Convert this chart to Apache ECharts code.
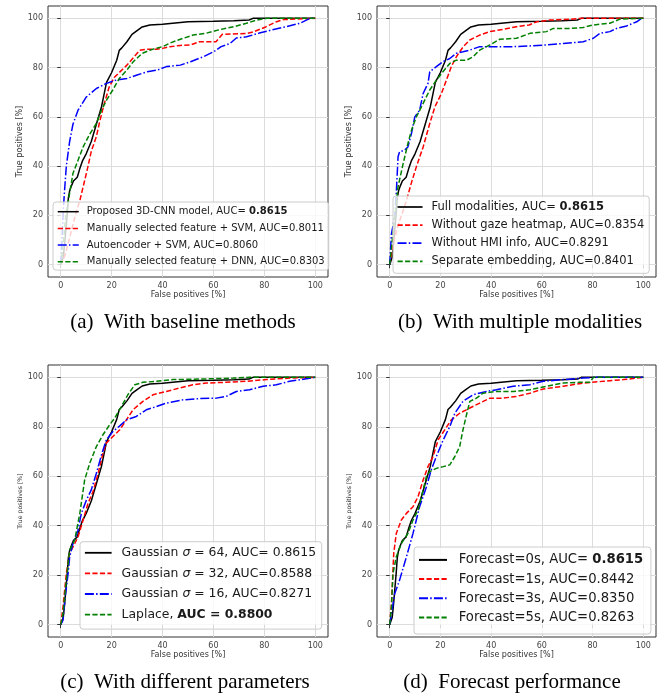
<!DOCTYPE html>
<html><head><meta charset="utf-8">
<script src="https://cdn.jsdelivr.net/npm/echarts@6/dist/echarts.min.js"></script>
<style>html,body{margin:0;padding:0;background:#fff}#c{width:665px;height:694px}</style>
</head><body><div id="c"></div>
<script>
// ---------- data ----------
const tickValues = [0, 20, 40, 60, 80, 100];
const captions = ['(a)  With baseline methods', '(b)  With multiple modalities', '(c)  With different parameters', '(d)  Forecast performance'];

const namesA = ['Proposed 3D-CNN model, AUC= 0.8615', 'Manually selected feature + SVM, AUC=0.8011', 'Autoencoder + SVM, AUC=0.8060', 'Manually selected feature + DNN, AUC=0.8303'];
const namesB = ['Full modalities, AUC= 0.8615', 'Without gaze heatmap, AUC=0.8354', 'Without HMI info, AUC=0.8291', 'Separate embedding, AUC=0.8401'];
const namesC = ['Gaussian σ = 64, AUC= 0.8615', 'Gaussian σ = 32, AUC=0.8588', 'Gaussian σ = 16, AUC=0.8271', 'Laplace, AUC = 0.8800'];
const namesD = ['Forecast=0s, AUC= 0.8615', 'Forecast=1s, AUC=0.8442', 'Forecast=3s, AUC=0.8350', 'Forecast=5s, AUC=0.8263'];

// proposed / full model (same curve in all panels)
const fullModel = [[0,0],[1,3],[1.5,8],[2,14],[2.5,20],[3,27],[3.5,30],[4.2,32],[5,34],[6.5,35.5],[7.5,39],[8.5,42],[10,45],[12,50],[14,57],[16,64],[17,69],[18,74],[20,78],[22,83],[23,87],[24,88],[26,90.5],[28,93.5],[30,95],[32,96.5],[35,97.3],[40,97.6],[45,98.1],[50,98.6],[60,98.8],[68,99],[74,99.3],[75.5,100],[100,100]];
// (a)
const svmManual = [[0,0],[1,2],[2,5],[3,9],[4,13],[5,17],[6,21],[7.5,26],[8.8,31.6],[10.3,38],[12,46],[14,52],[15.3,58],[17,65],[19,72],[21,76],[23,78],[26,81],[28.5,84],[31,87],[33.5,87.4],[37.5,87.4],[40,87.8],[43,88.5],[47,89],[51,89.2],[54.5,90.5],[61,90.5],[63.5,93.5],[73,93.8],[76,94.6],[80.5,96.5],[84.5,98.5],[87.5,99.5],[100,100]];
const autoencSvm = [[0,0],[0.5,10],[1,22],[1.5,30],[2.2,40],[3.5,50],[4.8,57],[6.8,62.7],[10,68],[14,71.5],[18,73.6],[22,75],[26,75.6],[30,77],[34,78.3],[38,79],[41.5,80.4],[47,81],[51,82.4],[56,84.4],[60,86.4],[63,88.5],[66.5,89.8],[69,92],[73,92.5],[78,94],[83,95.3],[88.5,96.6],[94,98],[98,100],[100,100]];
const dnnManual = [[0,0],[1,8],[2,20],[3,26],[3.5,29],[4.8,37],[6.8,42.4],[8.8,47.8],[11.4,53],[14,57.3],[16,62.7],[18,66.8],[20.5,71],[23,75.6],[26,79],[28.5,82.4],[32,85.8],[36,87.4],[40,88.5],[43,90],[47,91.5],[52,93.2],[57,93.9],[62,95.3],[68,96.6],[73,98],[77,99.3],[81,100],[100,100]];
// (b)
const noGaze = [[0,0],[1,6],[2,11],[3,15],[4,18],[5,21],[6.6,26],[8.5,33],[10.5,39.7],[13.2,47.8],[15.8,57.3],[17.8,64],[20.4,69.5],[22.4,75],[24.3,80.4],[26.3,84.4],[29,88.5],[31.6,91.2],[35.5,93.2],[39.5,94.6],[44.7,95.5],[50,96.6],[55,97.3],[58,98.6],[63,99.3],[71,99.6],[76,100],[100,100]];
const noHmi = [[0,0],[0.7,12.6],[2,19.4],[2.6,29],[3.3,43.8],[3.9,45.8],[4.6,45.8],[5.9,46.5],[7.2,47.8],[8.6,53.3],[9.9,60],[11.8,62.7],[13.2,69.5],[15.1,73.6],[15.8,78.3],[18.4,80.4],[21,82.4],[23.7,83.7],[26.3,85.8],[28.9,86.4],[31.6,87.1],[35.5,88.5],[42,88.5],[48.7,88.5],[55.3,88.8],[61.8,89.2],[68.4,89.8],[76.3,90.5],[80.3,91.9],[82.9,93.9],[86.8,94.6],[89.5,95.9],[93.4,96.9],[97.4,98.6],[99.3,100],[100,100]];
const sepEmbed = [[0,0],[2,19.4],[3.3,31.6],[5.3,41],[7.2,49.2],[8.6,54.6],[10.5,60],[12.5,64],[14.5,68.2],[15.8,70.9],[18.4,74.9],[21,78.3],[23.7,81.7],[26.3,83],[30.3,83],[32.9,84.4],[35.5,87.1],[39.5,89.2],[43.4,91.5],[50,91.9],[55.3,93.9],[61.8,94.6],[64.5,95.9],[71,95.9],[76.3,96.3],[80.3,97.3],[86.8,98],[90.8,99.7],[100,100]];
// (c)
const gauss32 = [[0,0],[0.9,7.2],[2.2,20.7],[3.5,28.8],[5.5,32.8],[6.8,35.5],[8.8,42.3],[10.7,49],[12.7,53.8],[14.7,61.2],[16.6,69.3],[17.9,73.4],[20.5,76.1],[23.2,78.8],[25.8,82.8],[28.4,86.9],[32.3,90.3],[36.3,93],[41.5,94.3],[46.7,95.7],[51.9,97],[57.2,97.7],[65,98],[72.9,98.4],[80.8,99.1],[89.9,99.7],[100,100]];
const gauss16 = [[0,0],[0.9,1.8],[1.6,9.9],[2.9,20.7],[3.5,27.4],[4.8,32.8],[6.8,38.2],[8.1,45],[10.1,50.4],[12,54.5],[14,61.2],[16,68.6],[17.9,74.7],[20.5,78.1],[23.2,80.4],[25.8,82.8],[29.7,84.2],[33.6,86.9],[37.6,88.2],[41.5,89.6],[48,90.9],[54.6,91.4],[61.1,91.6],[65,92.3],[69,94.3],[74.2,95],[79.5,96.4],[84.7,97],[89.9,98.4],[100,100]];
const laplace = [[0,0],[0.9,4.5],[2.2,18],[3.5,30.1],[5.5,34.2],[7.5,45],[9.4,58.5],[11.4,65.3],[14,72],[16.6,76.8],[19.2,80.8],[21.2,83.5],[23.8,88.2],[26.4,93],[29.1,97],[32.3,98],[37.6,98.4],[44.1,99.1],[54.6,99.3],[67.7,99.7],[74.2,100],[100,100]];
// (d)
const forecast1s = [[0,0],[0.7,8.5],[1.6,28.8],[2.6,36.9],[4.6,42.3],[6.6,45],[9.2,47.7],[11.2,51.8],[13.2,58.5],[15.1,63.9],[17.1,68],[19.1,74.7],[21.7,78.8],[24.3,82.8],[27.6,85.5],[31.6,87.6],[35.5,89.6],[39.5,91.6],[44.7,91.6],[50,92.3],[55.3,93.6],[60.5,95.3],[68.4,96.4],[76.3,97.7],[84.2,98.4],[92.1,99.1],[100,100]];
const forecast3s = [[0,0],[0.7,4.5],[2,12.6],[3.9,18],[6.6,27.4],[9.2,36.9],[11.8,47.7],[14.5,55.8],[16.4,62.6],[18.4,68],[21.1,74.7],[23.7,80.1],[25.7,85.5],[28.9,90.3],[32.9,93],[38.2,94.3],[42.1,95],[48.7,96.4],[55.3,97],[60.5,98.4],[68.4,99.1],[76.3,99.7],[81.6,100],[100,100]];
const forecast5s = [[0,0],[0.7,7.2],[1.3,20.7],[2.6,27.4],[4.6,32.8],[7.2,36.9],[9.2,42.3],[11.2,46.4],[13.2,54.5],[14.5,59.9],[15.8,61.9],[18.4,63.2],[21.1,63.9],[23.7,64.6],[25.7,68],[27.6,72],[28.9,78.8],[30.3,84.9],[31.6,90.3],[34.2,91.6],[36.8,93.6],[42.1,94.3],[48.7,94.3],[55.3,95],[61.8,96.4],[68.4,97.7],[75,98],[78.9,98],[80.3,100],[100,100]];

// ---------- styles ----------
const COLORS = ['#000000', '#ff0000', '#0000ff', '#008000'];
const DASH = ['solid', [5.2, 2.3], [9, 2.2, 1.5, 2.2], [5.2, 2.3]];
const FONT = 'DejaVu Sans';

const grids = [
  {left: 48, top: 6, width: 280, height: 271},
  {left: 377, top: 6, width: 279, height: 271},
  {left: 48, top: 365, width: 280, height: 272},
  {left: 377, top: 365, width: 279, height: 272}
];
const yNameSize = [8, 8, 6.2, 6.2];
const panelNames = [namesA, namesB, namesC, namesD];
const panelData = [
  [fullModel, svmManual, autoencSvm, dnnManual],
  [fullModel, noGaze, noHmi, sepEmbed],
  [fullModel, gauss32, gauss16, laplace],
  [fullModel, forecast1s, forecast3s, forecast5s]
];
// legend layout: [left, top, fontSize, itemGap, padding, itemWidth, textPadLeft, lineWidth]
const legendLayout = [
  [53, 202, 10, 6.7, [4.7, 4, 3.3, 4], 21, 3, 1.5],
  [393, 196, 11.5, 6.1, [5, 5, 6, 3.7], 25, 4, 1.7],
  [80, 541.7, 12.4, 8.6, [5.1, 5.7, 8.5, 4], 26.7, 5, 1.8],
  [414, 547, 13.2, 6.2, [6.4, 7.7, 10, 4], 28, 6.7, 2]
];
const captionPos = [[183, 322], [520, 322], [185, 682], [512, 682]];

function richName(name) {
  if (name.indexOf('Laplace') === 0) return '{n|Laplace, }{b|AUC = 0.8800}';
  if (name.indexOf('σ') >= 0) {
    const parts = name.split('σ');
    return '{n|' + parts[0] + '}{i|σ}{n|' + parts[1] + '}';
  }
  if (name.indexOf('AUC= 0.8615') >= 0) {
    return '{n|' + name.replace('0.8615', '') + '}{b|0.8615}';
  }
  return '{n|' + name + '}';
}

const option = {
  animation: false,
  backgroundColor: '#ffffff',
  grid: grids.map(g => Object.assign({show: true, borderColor: '#333', borderWidth: 1, backgroundColor: 'transparent', containLabel: false}, g)),
  xAxis: grids.map((g, i) => ({
    type: 'value', gridIndex: i, min: -5, max: 105,
    name: 'False positives [%]', nameLocation: 'middle', nameGap: 13,
    nameTextStyle: {fontFamily: FONT, fontSize: 8, color: '#333'},
    axisLine: {show: false},
    axisTick: {show: true, length: 3.5, lineStyle: {color: '#333'}, customValues: tickValues},
    axisLabel: {customValues: tickValues, fontFamily: FONT, fontSize: 8, color: '#444', margin: 5},
    splitLine: {show: true, lineStyle: {color: '#dcdcdc', width: 1}}
  })),
  yAxis: grids.map((g, i) => ({
    type: 'value', gridIndex: i, min: -5, max: 105,
    name: 'True positives [%]', nameLocation: 'middle', nameGap: i < 2 ? 24 : 25,
    nameTextStyle: {fontFamily: FONT, fontSize: yNameSize[i], color: '#333'},
    axisLine: {show: false},
    axisTick: {show: true, length: 3.5, lineStyle: {color: '#333'}, customValues: tickValues},
    axisLabel: {customValues: tickValues, fontFamily: FONT, fontSize: 8, color: '#444', margin: 5},
    splitLine: {show: true, lineStyle: {color: '#dcdcdc', width: 1}}
  })),
  legend: legendLayout.map((L, i) => {
    const fs = L[2];
    const base = {fontFamily: FONT, fontSize: fs, color: '#1a1a1a'};
    return {
      orient: 'vertical', left: L[0], top: L[1], data: panelNames[i],
      itemWidth: L[5], itemHeight: fs, itemGap: L[3], padding: L[4],
      backgroundColor: 'rgba(255,255,255,0.8)', borderColor: '#cccccc', borderWidth: 1, borderRadius: 3,
      selectedMode: false,
      itemStyle: {color: 'transparent', borderWidth: 0},
      lineStyle: {width: L[7]},
      textStyle: Object.assign({}, base, {
        padding: [0, 0, 0, L[6]],
        rich: {
          n: Object.assign({}, base),
          b: Object.assign({}, base, {fontWeight: 'bold'}),
          i: Object.assign({}, base, {fontStyle: 'italic'})
        }
      }),
      formatter: richName
    };
  }),
  graphic: captions.map((t, i) => ({
    type: 'text', x: captionPos[i][0], y: captionPos[i][1],
    style: {text: t, fontFamily: 'Liberation Serif', fontSize: 21, fill: '#000', align: 'center', verticalAlign: 'middle'}
  })),
  series: []
};

panelData.forEach((arr, p) => {
  arr.forEach((d, k) => {
    option.series.push({
      type: 'line', name: panelNames[p][k], xAxisIndex: p, yAxisIndex: p,
      data: d, symbol: 'none', smooth: false, clip: true,
      lineStyle: {color: COLORS[k], width: 1.5, type: DASH[k]},
      itemStyle: {color: COLORS[k]},
      emphasis: {disabled: true}
    });
  });
});

const chart = echarts.init(document.getElementById('c'), null, {renderer: 'canvas'});
chart.setOption(option);
</script>
</body></html>
